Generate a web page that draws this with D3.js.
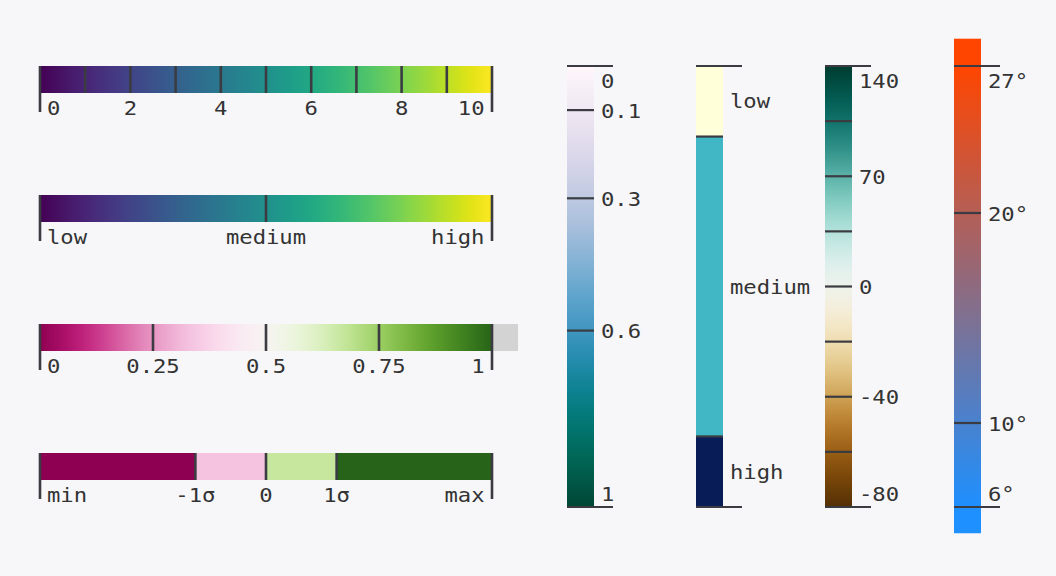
<!DOCTYPE html>
<html>
<head>
<meta charset="utf-8">
<script src="https://cdn.jsdelivr.net/npm/d3@7"></script>
<style>
  html, body { margin: 0; padding: 0; background: #f7f7f9; }
  svg text { font-family: "DejaVu Sans Mono", monospace; font-size: 19px; fill: #333; }
</style>
</head>
<body>
<svg id="chart"></svg>
<script>
// DATA
const viridisDomain = [0, 10]
const viridisTicks = [0, 1, 2, 3, 4, 5, 6, 7, 8, 9, 10]
const viridisLabels = [0, 2, 4, 6, 8, 10]

const levelDomain = [0, 1]
const levelTicks = [0, 0.5, 1]
const levelLabels = ["low", "medium", "high"]

const piygDomain = [0, 1]
const piygTicks = [0, 0.25, 0.5, 0.75, 1]
const piygLabels = ["0", "0.25", "0.5", "0.75", "1"]

const sigmaBreaks = [-3.2, -1, 0, 1, 3.2]
const sigmaLabels = ["min", "-1σ", "0", "1σ", "max"]

const pubugnDomain = [0, 1]
const pubugnTicks = [0, 0.1, 0.3, 0.6, 1]
const pubugnLabels = ["0", "0.1", "0.3", "0.6", "1"]

const bandBreaks = [0, 16, 84, 100]
const bandLabels = ["low", "medium", "high"]

const brbgDomain = [-80, 0, 140]
const brbgTicks = [140, 105, 70, 35, 0, -20, -40, -60, -80]
const brbgLabels = [140, 70, 0, -40, -80]

const tempDomain = [6, 27]
const tempExtent = [4.75, 28.3]
const tempTicks = [27, 20, 10, 6]
const tempLabels = ["27°", "20°", "10°", "6°"]

// DIMENSIONS
const width = 1056, height = 576
const barSize = 27, tickOut = 19, stretch = 1.17
const hx = [40, 492]            // horizontal bars: left, right
const hRows = [66, 195, 324, 453]
const vy = [66, 507]            // vertical bars: top, bottom
const vCols = [567, 696, 825, 954]
const tickColor = "#3b3b42"

const svg = d3.select("#chart").attr("width", width).attr("height", height)
const defs = svg.append("defs")

function label(g, x, y, text, anchor) {
  g.append("text")
    .attr("transform", `translate(${x},${y}) scale(${stretch},1)`)
    .attr("text-anchor", anchor)
    .text(text)
}

// sample a colour scale along a bar into a gradient
function gradient(id, color, pos, from, to, vertical) {
  const grad = defs.append("linearGradient").attr("id", id)
    .attr("x1", 0).attr("y1", 0)
    .attr("x2", vertical ? 0 : 1).attr("y2", vertical ? 1 : 0)
  const n = 80
  for (let i = 0; i <= n; i++) {
    const t = i / n
    grad.append("stop")
      .attr("offset", t)
      .attr("stop-color", color(pos.invert(from + t * (to - from))))
  }
  return `url(#${id})`
}

// HORIZONTAL LEGENDS
const hScale = domain => d3.scaleLinear().domain(domain).range(hx)

function hTicks(g, x, ticks) {
  const ends = d3.extent(x.domain())
  g.selectAll(".tick").data(ticks).join("line")
    .attr("x1", d => x(d)).attr("x2", d => x(d))
    .attr("y1", 0)
    .attr("y2", d => (d === ends[0] || d === ends[1]) ? barSize + tickOut : barSize)
    .attr("stroke", tickColor).attr("stroke-width", 2.6)
}

function hLabels(g, x, values, texts) {
  values.forEach((v, i) => {
    const last = values.length - 1
    const anchor = i === 0 ? "start" : i === last ? "end" : "middle"
    const dx = i === 0 ? 7 : i === last ? -7.5 : 0
    label(g, x(v) + dx, barSize + 22, texts[i], anchor)
  })
}

// 1. viridis 0..10
{
  const g = svg.append("g").attr("transform", `translate(0,${hRows[0]})`)
  const x = hScale(viridisDomain)
  const color = d3.scaleSequential(viridisDomain, d3.interpolateViridis)
  g.append("rect").attr("x", hx[0]).attr("width", hx[1] - hx[0]).attr("height", barSize)
    .attr("fill", gradient("g1", color, x, hx[0], hx[1], false))
  hTicks(g, x, viridisTicks)
  hLabels(g, x, viridisLabels, viridisLabels.map(String))
}

// 2. viridis low / medium / high
{
  const g = svg.append("g").attr("transform", `translate(0,${hRows[1]})`)
  const x = hScale(levelDomain)
  const color = d3.scaleSequential(levelDomain, d3.interpolateViridis)
  g.append("rect").attr("x", hx[0]).attr("width", hx[1] - hx[0]).attr("height", barSize)
    .attr("fill", gradient("g2", color, x, hx[0], hx[1], false))
  hTicks(g, x, levelTicks)
  hLabels(g, x, levelTicks, levelLabels)
}

// 3. PiYG with unknown swatch
{
  const g = svg.append("g").attr("transform", `translate(0,${hRows[2]})`)
  const x = hScale(piygDomain)
  const color = d3.scaleSequential(piygDomain, d3.interpolatePiYG)
  g.append("rect").attr("x", hx[1]).attr("width", 26).attr("height", barSize)
    .attr("fill", "#d3d3d3")
  g.append("rect").attr("x", hx[0]).attr("width", hx[1] - hx[0]).attr("height", barSize)
    .attr("fill", gradient("g3", color, x, hx[0], hx[1], false))
  hTicks(g, x, piygTicks)
  hLabels(g, x, piygTicks, piygLabels)
}

// 4. PiYG thresholds at sigma
{
  const g = svg.append("g").attr("transform", `translate(0,${hRows[3]})`)
  const x = hScale(d3.extent(sigmaBreaks))
  const colors = [0, 1 / 3, 2 / 3, 1].map(d3.interpolatePiYG)
  const color = d3.scaleThreshold().domain(sigmaBreaks.slice(1, -1)).range(colors)
  g.selectAll(".seg").data(sigmaBreaks.slice(0, -1)).join("rect")
    .attr("x", d => x(d))
    .attr("width", (d, i) => x(sigmaBreaks[i + 1]) - x(d))
    .attr("height", barSize)
    .attr("fill", d => color(d))
  hTicks(g, x, sigmaBreaks)
  hLabels(g, x, sigmaBreaks, sigmaLabels)
}

// VERTICAL LEGENDS
function vTicks(g, y, ticks, ends) {
  g.selectAll(".tick").data(ticks).join("line")
    .attr("y1", d => y(d)).attr("y2", d => y(d))
    .attr("x1", 0)
    .attr("x2", d => ends.includes(d) ? barSize + tickOut : barSize)
    .attr("stroke", tickColor).attr("stroke-width", 2.2)
}

function vLabels(g, y, values, texts) {
  values.forEach((v, i) => {
    const last = values.length - 1
    const dy = i === 0 ? 22 : i === last ? -6.5 : 7.5
    label(g, barSize + 7, y(v) + dy, texts[i], "start")
  })
}

// 5. PuBuGn
{
  const g = svg.append("g").attr("transform", `translate(${vCols[0]},0)`)
  const y = d3.scaleLinear().domain(pubugnDomain).range(vy)
  const color = d3.scaleSequential(pubugnDomain, d3.interpolatePuBuGn)
  g.append("rect").attr("y", vy[0]).attr("width", barSize).attr("height", vy[1] - vy[0])
    .attr("fill", gradient("g5", color, y, vy[0], vy[1], true))
  vTicks(g, y, pubugnTicks, d3.extent(pubugnDomain))
  vLabels(g, y, pubugnTicks, pubugnLabels)
}

// 6. YlGnBu bands
{
  const g = svg.append("g").attr("transform", `translate(${vCols[1]},0)`)
  const y = d3.scaleLinear().domain(d3.extent(bandBreaks)).range(vy)
  const scheme = d3.schemeYlGnBu[9]
  const color = d3.scaleOrdinal(bandLabels, [scheme[0], scheme[4], scheme[8]])
  const segs = bandLabels.map((name, i) => ({ name, lo: bandBreaks[i], hi: bandBreaks[i + 1] }))
  g.selectAll(".seg").data(segs).join("rect")
    .attr("y", d => y(d.lo))
    .attr("height", d => y(d.hi) - y(d.lo))
    .attr("width", barSize)
    .attr("fill", d => color(d.name))
  vTicks(g, y, bandBreaks, d3.extent(bandBreaks))
  segs.forEach(d => label(g, barSize + 7, (y(d.lo) + y(d.hi)) / 2 + 7, d.name, "start"))
}

// 7. BrBG diverging
{
  const g = svg.append("g").attr("transform", `translate(${vCols[2]},0)`)
  const y = d3.scaleLinear().domain(brbgDomain).range([vy[1], (vy[0] + vy[1]) / 2, vy[0]])
  const color = d3.scaleDiverging(brbgDomain, d3.interpolateBrBG)
  g.append("rect").attr("y", vy[0]).attr("width", barSize).attr("height", vy[1] - vy[0])
    .attr("fill", gradient("g7", color, y, vy[0], vy[1], true))
  vTicks(g, y, brbgTicks, d3.extent(brbgDomain))
  vLabels(g, y, brbgLabels, brbgLabels.map(String))
}

// 8. temperature
{
  const g = svg.append("g").attr("transform", `translate(${vCols[3]},0)`)
  const y = d3.scaleLinear().domain(tempDomain).range([vy[1], vy[0]])
  const color = d3.scaleLinear().domain(tempDomain).range(["dodgerblue", "orangered"]).clamp(true)
  const top = y(tempExtent[1]), bottom = y(tempExtent[0])
  g.append("rect").attr("y", top).attr("width", barSize).attr("height", bottom - top)
    .attr("fill", gradient("g8", color, y, top, bottom, true))
  vTicks(g, y, tempTicks, d3.extent(tempDomain))
  vLabels(g, y, tempTicks, tempLabels)
}
</script>
</body>
</html>
